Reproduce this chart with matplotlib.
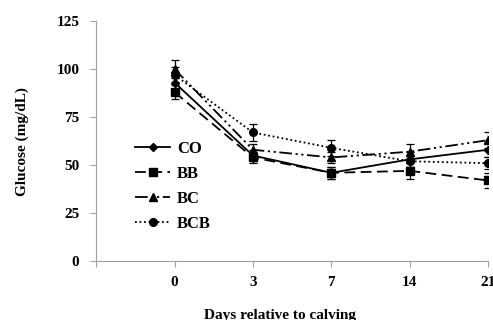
import numpy as np
import matplotlib.pyplot as plt
from matplotlib.lines import Line2D

days = ['0', '3', '7', '14', '21']
co = [93, 55, 46, 53, 58]
bb = [88, 54, 46, 47, 42]
bc = [100, 58, 54, 57, 63]
bcb = [97, 67, 59, 52, 51]
co_err = [4, 3, 3, 4, 4]
bb_err = [3.5, 3, 3, 4, 4]
bc_err = [4.5, 3, 3, 4, 4]
bcb_err = [4, 4.5, 4, 3, 3]

plt.rcParams['font.family'] = 'Liberation Serif'
plt.rcParams['font.weight'] = 'bold'

fig = plt.figure(figsize=(4.93, 3.2), dpi=100)
ax = fig.add_axes([0.195, 0.184, 0.795, 0.75])

x = np.arange(1, len(days) + 1)
series = [
    ('CO', co, co_err, 'D', '-', 4.5),
    ('BB', bb, bb_err, 's', (0, (6, 3)), 5.5),
    ('BC', bc, bc_err, '^', (0, (7, 2, 1.2, 2, 1.2, 2)), 5.5),
    ('BCB', bcb, bcb_err, 'o', (0, (1, 1.5)), 5.5),
]
handles = []
for name, vals, err, mk, ls, ms in series:
    ax.errorbar(x, vals, yerr=err, marker=mk, ls=ls, ms=ms, color='black', lw=1.3,
                capsize=3, elinewidth=0.9, capthick=0.9)
    handles.append(Line2D([], [], color='black', marker=mk, ls=ls, ms=ms, lw=1.3, label=name))

ax.set_xlim(0, 5)
ax.set_ylim(0, 125)
ax.set_yticks([0, 25, 50, 75, 100, 125])
ax.set_xticks([0] + list(x))
ax.set_xticklabels([''] + days)
for s in ['top', 'right']:
    ax.spines[s].set_visible(False)
for s in ['left', 'bottom']:
    ax.spines[s].set_color('#a0a0a0')
ax.tick_params(colors='#a0a0a0', labelcolor='black', labelsize=11, length=4)
ax.tick_params(axis='y', pad=8)
ax.tick_params(axis='x', pad=7)

ax.set_ylabel('Glucose (mg/dL)', fontsize=11, fontweight='bold', labelpad=20)
ax.set_xlabel('Days relative to calving', fontsize=11, fontweight='bold')
ax.xaxis.set_label_coords(0.47, -0.2)

ax.legend(handles=handles, loc='upper left', bbox_to_anchor=(0.062, 0.565), frameon=False,
          handlelength=2.1, fontsize=12, labelspacing=0.55, handletextpad=0.4)

fig.savefig('out.png', dpi=100)
